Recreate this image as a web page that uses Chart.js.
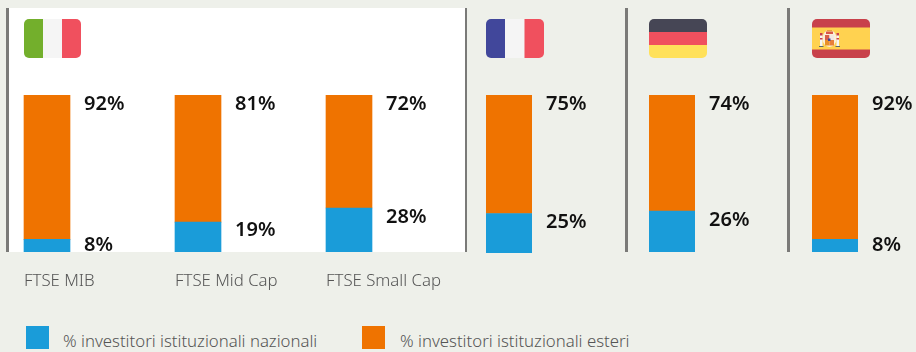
<!DOCTYPE html>
<html><head><meta charset="utf-8">
<script src="https://cdn.jsdelivr.net/npm/chart.js@4/dist/chart.umd.min.js"></script>
<style>
html,body{margin:0;padding:0;background:#eef0ea;width:916px;height:352px;overflow:hidden;font-family:"Noto Sans",sans-serif}
.abs{position:absolute}
.sep{position:absolute;top:8px;width:3px;height:244px;background:#7a7a78}
canvas{position:absolute}
.leg{position:absolute;font-size:16.8px;font-weight:300;color:#555;white-space:nowrap}
.sw{position:absolute;width:23px;height:23px}
</style></head><body>
<div class="abs" style="left:9px;top:8px;width:456px;height:244px;background:#fff"></div>
<div class="sep" style="left:6px"></div><div class="sep" style="left:465px;width:2px"></div>
<div class="sep" style="left:625px"></div><div class="sep" style="left:787px"></div>

<svg class="abs" style="left:24px;top:19px" width="57" height="39"><defs><clipPath id="c1"><rect width="57" height="39" rx="5"/></clipPath></defs><g clip-path="url(#c1)"><rect width="19" height="39" fill="#73af2c"/><rect x="19" width="19" height="39" fill="#f5f5f5"/><rect x="38" width="19" height="39" fill="#f0505e"/></g></svg>
<svg class="abs" style="left:486px;top:19px" width="58" height="39"><defs><clipPath id="c2"><rect width="58" height="39" rx="5"/></clipPath></defs><g clip-path="url(#c2)"><rect width="19.5" height="39" fill="#41479b"/><rect x="19" width="19.5" height="39" fill="#f5f5f5"/><rect x="38.5" width="19.5" height="39" fill="#f0505e"/></g></svg>
<svg class="abs" style="left:649px;top:19px" width="58" height="39"><defs><clipPath id="c3"><rect width="58" height="39" rx="5"/></clipPath></defs><g clip-path="url(#c3)"><rect width="58" height="13" fill="#464655"/><rect y="13" width="58" height="13" fill="#f0505e"/><rect y="26" width="58" height="13" fill="#ffe15a"/></g></svg>
<svg class="abs" style="left:812px;top:19px" width="58" height="39"><defs><clipPath id="c4"><rect width="58" height="39" rx="5"/></clipPath></defs><g clip-path="url(#c4)"><rect width="58" height="39" fill="#c8414b"/><rect y="8.5" width="58" height="22" fill="#ffd250"/>
<ellipse cx="17.5" cy="19.5" rx="7" ry="8.5" fill="#fbeed8"/>
<rect x="8" y="15" width="2.5" height="12" fill="#f5f5f5"/><rect x="8" y="14" width="2.5" height="2.5" fill="#c8414b"/><rect x="8" y="19" width="2.5" height="1.5" fill="#c8414b"/><rect x="7" y="27" width="4.5" height="1" fill="#5a6a70"/>
<rect x="24.5" y="15" width="2.5" height="12" fill="#f5f5f5"/><rect x="24.5" y="14" width="2.5" height="2.5" fill="#c8414b"/><rect x="24.5" y="19" width="2.5" height="1.5" fill="#c8414b"/><rect x="23.5" y="27" width="4.5" height="1" fill="#5a6a70"/>
<rect x="14" y="12.5" width="7" height="2.5" fill="#d8584a"/><rect x="15" y="11" width="5" height="1.5" fill="#e8a040"/>
<rect x="13" y="16" width="4.5" height="5" fill="#d8604a"/><rect x="17.5" y="16" width="4.5" height="5" fill="#f2e6e0"/><rect x="13" y="21" width="4.5" height="5.5" fill="#e8902a"/><rect x="17.5" y="21" width="4.5" height="5.5" fill="#e8803a"/><rect x="16" y="19.5" width="2.5" height="2.5" fill="#41479b"/></g></svg>

<canvas id="it" style="left:-29px;top:95px" width="500" height="200"></canvas>
<canvas id="fr" style="left:486px;top:95px" width="110" height="158"></canvas>
<canvas id="de" style="left:649px;top:95px" width="110" height="157"></canvas>
<canvas id="es" style="left:812px;top:95px" width="110" height="157"></canvas>

<div id="legend"></div>
<script>
const nationalLabel = "% investitori istituzionali nazionali";
const foreignLabel = "% investitori istituzionali esteri";
const nationalColor = "#1a9cd9";
const foreignColor = "#ef7300";
const italyCategories = ["FTSE MIB", "FTSE Mid Cap", "FTSE Small Cap"];
const italyNational = [8, 19, 28];
const italyForeign = [92, 81, 72];
const franceCategory = ["Francia"];
const franceNational = [25];
const franceForeign = [75];
const germanyCategory = ["Germania"];
const germanyNational = [26];
const germanyForeign = [74];
const spainCategory = ["Spagna"];
const spainNational = [8];
const spainForeign = [92];

const valueLabels = {
  id: "valueLabels",
  afterDraw(chart) {
    const c = chart.ctx, y = chart.scales.y;
    c.save();
    c.font = "600 20px 'Noto Sans', sans-serif";
    c.fillStyle = "#111";
    c.textBaseline = "middle";
    c.textAlign = "left";
    chart.data.datasets[0].data.forEach((v, i) => {
      const bar = chart.getDatasetMeta(0).data[i];
      const right = bar.x + bar.width / 2 + 14;
      c.fillText(v + "%", right, y.getPixelForValue(v) + 4 + 0.2 * v);
      c.fillText(chart.data.datasets[1].data[i] + "%", right, y.top + 9);
    });
    c.restore();
  }
};
function make(id, cats, nat, fgn, showTicks) {
  return new Chart(document.getElementById(id), {
    type: "bar",
    data: { labels: cats, datasets: [
      { label: nationalLabel, data: nat, backgroundColor: nationalColor, barThickness: 46, stack: "s" },
      { label: foreignLabel, data: fgn, backgroundColor: foreignColor, barThickness: 46, stack: "s" }
    ]},
    options: {
      responsive: false, animation: false,
      layout: { padding: showTicks ? { left: 0.5, right: 46.5 } : { right: 64 } },
      plugins: { legend: { display: false }, tooltip: { enabled: false } },
      scales: {
        x: { stacked: true, display: showTicks, offset: true,
             afterFit(s) { if (showTicks) { s.paddingLeft = 0; s.paddingRight = 0; s.height = 43; } },
             grid: { display: false, drawTicks: false }, border: { display: false },
             ticks: { align: "start", labelOffset: -23, padding: 19, autoSkip: false, maxRotation: 0,
                      color: "#555", font: { family: "'Noto Sans', sans-serif", size: 16.8, weight: 300 } } },
        y: { stacked: true, display: false, min: 0, max: 100 }
      }
    },
    plugins: [valueLabels]
  });
}
make("it", italyCategories, italyNational, italyForeign, true);
make("fr", franceCategory, franceNational, franceForeign, false);
make("de", germanyCategory, germanyNational, germanyForeign, false);
make("es", spainCategory, spainNational, spainForeign, false);

const lg = document.getElementById("legend");
[[nationalLabel, nationalColor, 26, 63], [foreignLabel, foreignColor, 362, 400]].forEach(([t, col, sx, tx]) => {
  lg.insertAdjacentHTML("beforeend",
    `<div class="sw" style="left:${sx}px;top:326px;background:${col}"></div><div class="leg" style="left:${tx}px;top:329px">${t}</div>`);
});
</script>
</body></html>
